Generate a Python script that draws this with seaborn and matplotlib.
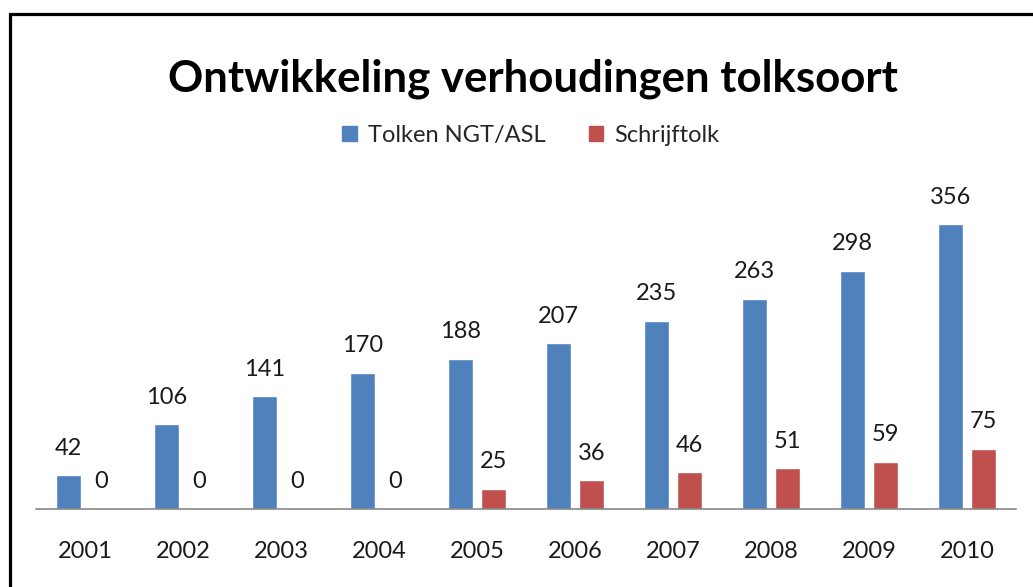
import pandas as pd
import matplotlib
matplotlib.use("Agg")
import matplotlib.pyplot as plt
import seaborn as sns
from matplotlib.patches import Rectangle

# data
jaren = ['2001', '2002', '2003', '2004', '2005', '2006', '2007', '2008', '2009', '2010']
tolken = [42, 106, 141, 170, 188, 207, 235, 263, 298, 356]
schrijftolk = [0, 0, 0, 0, 25, 36, 46, 51, 59, 75]
series = ['Tolken NGT/ASL', 'Schrijftolk']
kleuren = ['#4F81BD', '#C0504D']

df = pd.DataFrame({
    'jaar': jaren * 2,
    'aantal': tolken + schrijftolk,
    'soort': [series[0]] * len(jaren) + [series[1]] * len(jaren),
})

sns.set_style('white')
plt.rcParams['font.family'] = ['Lato', 'DejaVu Sans']

fig = plt.figure(figsize=(10.33, 5.87), dpi=100)
W, H = 1033, 587
# plot area in pixels: x 36..1016, baseline at y=509, ylim 0..400 -> 0.8 px / unit
ax = fig.add_axes([36 / W, (H - 509) / H, 980 / W, 320 / H])

sns.barplot(data=df, x='jaar', y='aantal', hue='soort', palette=kleuren,
            width=0.67, gap=0.24, saturation=1, errorbar=None, ax=ax, legend=False)

ax.set_ylim(0, 400)
ax.set_xlim(-0.5, 9.5)
ax.set_xlabel('')
ax.set_ylabel('')
ax.set_yticks([])
for s in ['top', 'left', 'right']:
    ax.spines[s].set_visible(False)
ax.spines['bottom'].set_color('#868686')
ax.spines['bottom'].set_linewidth(1.2)
ax.tick_params(axis='x', length=0, pad=23, labelsize=17, labelcolor='#1a1a1a')

for cont in ax.containers:
    ax.bar_label(cont, fmt='%d', padding=12, fontsize=17, color='#1a1a1a')

# title and legend
fig.text(533 / W, 1 - 79 / H, 'Ontwikkeling verhoudingen tolksoort',
         ha='center', va='center', fontsize=31.5, fontweight='bold', color='black')
handles = [Rectangle((0, 0), 1, 1, color=c) for c in kleuren]
fig.legend(handles, series, loc='center', bbox_to_anchor=(531 / W, 1 - 135 / H),
           ncol=2, frameon=False, fontsize=17, handlelength=0.6, handleheight=0.6,
           handletextpad=0.5, columnspacing=1.8)

# black frame (only left and top edges visible)
fig.patches.append(Rectangle((9.5 / W, -0.1), 1.2, 1.1 - 13.5 / H,
                             transform=fig.transFigure, fill=False,
                             edgecolor='black', linewidth=2.3, clip_on=False))

fig.savefig('out.png', dpi=100)
